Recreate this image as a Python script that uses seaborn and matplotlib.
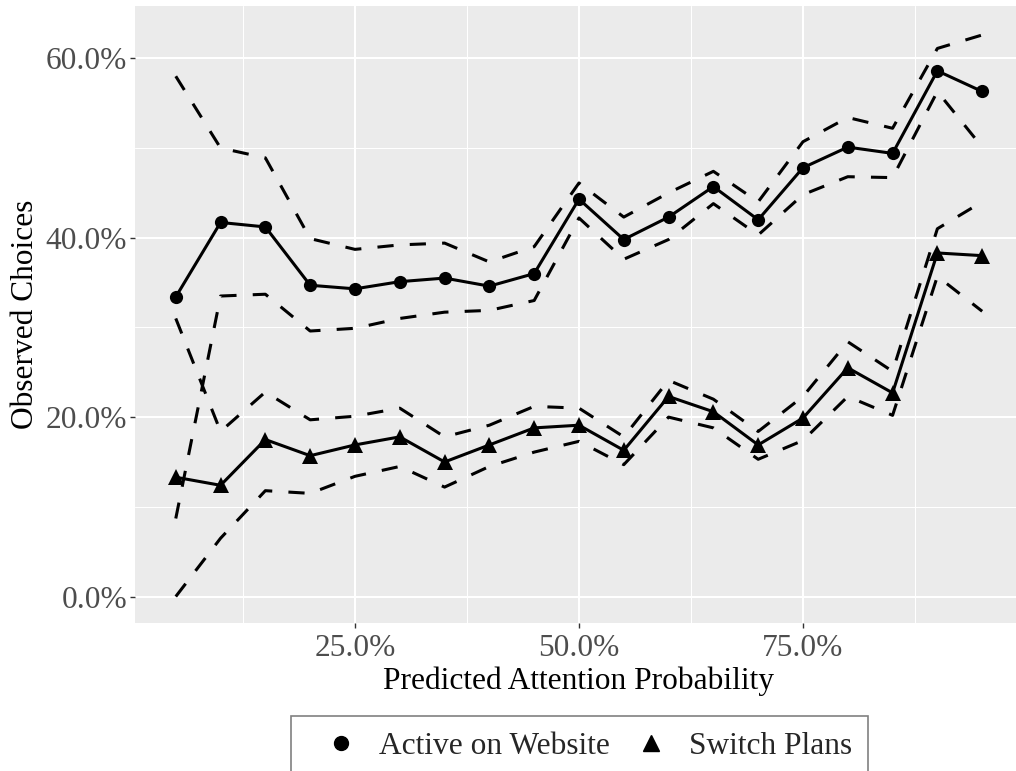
import matplotlib
matplotlib.use("Agg")
import matplotlib.pyplot as plt
from matplotlib.lines import Line2D
from matplotlib.ticker import MultipleLocator, FuncFormatter
import seaborn as sns
import pandas as pd

# Binned predicted attention probability (%), observed shares (%) with CI bounds
attention = [5, 10, 15, 20, 25, 30, 35, 40, 45, 50, 55, 60, 65, 70, 75, 80, 85, 90, 95]

active_mean = [33.4, 41.7, 41.2, 34.7, 34.3, 35.1, 35.5, 34.6, 36.0, 44.3,
               39.8, 42.3, 45.7, 42.0, 47.8, 50.1, 49.4, 58.6, 56.3]
active_upper = [58.0, 50.0, 48.9, 39.9, 38.7, 39.2, 39.4, 37.3, 39.0, 46.1,
                42.3, 45.0, 47.4, 44.0, 50.7, 53.4, 52.2, 61.1, 62.6]
active_lower = [8.7, 33.5, 33.7, 29.6, 29.9, 31.0, 31.7, 31.9, 33.0, 42.2,
                37.6, 39.8, 43.8, 40.3, 44.8, 46.8, 46.7, 56.3, 50.1]

switch_mean = [13.3, 12.4, 17.5, 15.7, 16.9, 17.8, 15.0, 16.9, 18.8, 19.1,
               16.3, 22.3, 20.6, 16.9, 19.9, 25.5, 22.7, 38.3, 38.0]
switch_upper = [31.0, 18.4, 22.8, 19.7, 20.1, 21.0, 17.8, 19.1, 21.2, 21.0,
                17.8, 24.1, 22.0, 18.4, 22.3, 28.4, 25.1, 41.0, 44.0]
switch_lower = [0.0, 6.5, 11.8, 11.5, 13.4, 14.5, 12.2, 14.5, 16.1, 17.3,
                14.7, 20.0, 18.8, 15.3, 17.4, 22.3, 20.2, 35.7, 31.8]

series_names = ["Active on Website", "Switch Plans"]
series_markers = ["o", "^"]
marker_sizes = [9.5, 11]

frames = []
for name, m, lo, hi in [(series_names[0], active_mean, active_lower, active_upper),
                        (series_names[1], switch_mean, switch_lower, switch_upper)]:
    frames.append(pd.DataFrame({"x": attention, "mean": m, "lower": lo,
                                "upper": hi, "series": name}))
df = pd.concat(frames, ignore_index=True)

sns.set_theme(style="darkgrid")
plt.rcParams["font.family"] = ["Liberation Serif", "DejaVu Serif"]
fs = 22.6

fig = plt.figure(figsize=(10.16, 7.71), dpi=100)
ax = fig.add_axes([135 / 1016, 1 - 623 / 771, 887.5 / 1016, 617 / 771])
ax.set_facecolor("#EBEBEB")

dash = (0, (5.3, 5.3))
for name, mk, ms in zip(series_names, series_markers, marker_sizes):
    sub = df[df["series"] == name]
    sns.lineplot(data=sub, x="x", y="lower", color="black", lw=2.2,
                 linestyle=dash, ax=ax, legend=False)
    sns.lineplot(data=sub, x="x", y="upper", color="black", lw=2.2,
                 linestyle=dash, ax=ax, legend=False)
    sns.lineplot(data=sub, x="x", y="mean", color="black", lw=2.2,
                 marker=mk, markersize=ms, markeredgewidth=0, ax=ax, legend=False)

ax.set_xlim(0.45, 99.5)
ax.set_ylim(-2.95, 65.83)
ax.xaxis.set_major_locator(MultipleLocator(25))
ax.xaxis.set_minor_locator(MultipleLocator(12.5))
ax.yaxis.set_major_locator(MultipleLocator(20))
ax.yaxis.set_minor_locator(MultipleLocator(10))
pct = FuncFormatter(lambda v, p: f"{v:.1f}%")
ax.xaxis.set_major_formatter(pct)
ax.yaxis.set_major_formatter(pct)

ax.grid(which="major", color="white", lw=1.5)
ax.grid(which="minor", color="white", lw=0.75)
ax.set_axisbelow(True)
for s in ax.spines.values():
    s.set_visible(False)

ax.tick_params(which="major", length=3.6, width=1.0, color="#333333",
               labelcolor="#4D4D4D", labelsize=fs, bottom=True, left=True)
ax.tick_params(axis="x", which="major", pad=4)
ax.tick_params(axis="y", which="major", pad=2)
ax.tick_params(which="minor", length=0)

ax.set_xlabel("Predicted Attention Probability", fontsize=fs, color="black", labelpad=3)
ax.set_ylabel("Observed Choices", fontsize=fs, color="black", labelpad=4)

handles = [Line2D([], [], color="black", marker="o", markersize=10, linestyle="none"),
           Line2D([], [], color="black", marker="^", markersize=11.5, linestyle="none")]
leg = fig.legend(handles, series_names, loc="upper center", ncol=2,
                 bbox_to_anchor=(579.5 / 1016, 1 - 716 / 771), borderaxespad=0,
                 fontsize=fs, frameon=True, fancybox=False, edgecolor="#808080",
                 facecolor="white", framealpha=1, borderpad=0.5,
                 handlelength=2.2, handletextpad=0.12, columnspacing=0.2)
leg.get_frame().set_linewidth(1.2)

fig.savefig("out.png", dpi=100, facecolor="white")
